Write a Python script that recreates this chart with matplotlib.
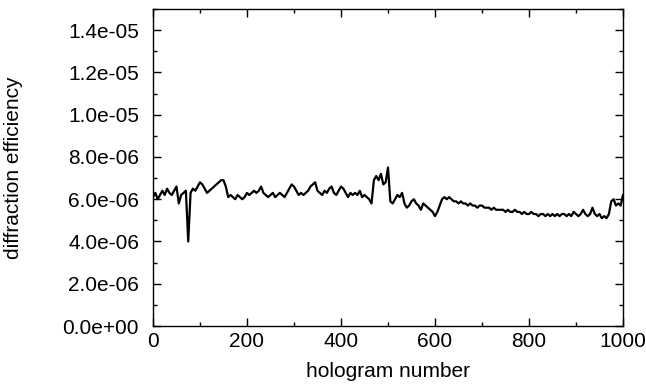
#!/usr/bin/env python3
"""Diffraction efficiency versus hologram number."""

import matplotlib

matplotlib.use("Agg")
import matplotlib.pyplot as plt
import numpy as np
from matplotlib.ticker import FormatStrFormatter, MultipleLocator

# hologram numbers, one reading every 5 holograms
HOLOGRAM = np.arange(0, 1001, 5)

# diffraction efficiency, in units of 1e-6
EFFICIENCY_E6 = [
    6.1, 6.3, 6.0, 6.2, 6.4, 6.2, 6.5, 6.3, 6.2, 6.4,
    6.6, 5.8, 6.2, 6.3, 6.4, 4.0, 6.3, 6.5, 6.4, 6.6,
    6.8, 6.7, 6.5, 6.3, 6.4, 6.5, 6.6, 6.7, 6.8, 6.9,
    6.9, 6.6, 6.1, 6.2, 6.1, 6.0, 6.2, 6.1, 6.0, 6.1,
    6.3, 6.2, 6.3, 6.4, 6.3, 6.4, 6.6, 6.3, 6.2, 6.1,
    6.2, 6.3, 6.1, 6.2, 6.3, 6.2, 6.1, 6.3, 6.5, 6.7,
    6.6, 6.4, 6.2, 6.3, 6.2, 6.3, 6.4, 6.6, 6.7, 6.8,
    6.4, 6.3, 6.2, 6.4, 6.3, 6.5, 6.6, 6.3, 6.2, 6.4,
    6.6, 6.5, 6.3, 6.1, 6.3, 6.2, 6.3, 6.2, 6.4, 6.1,
    6.2, 6.1, 6.0, 5.8, 6.9, 7.1, 6.9, 7.2, 6.7, 6.8,
    7.5, 5.9, 5.8, 6.0, 6.2, 6.1, 6.3, 5.8, 5.6, 5.7,
    5.9, 6.0, 5.8, 5.7, 5.5, 5.8, 5.7, 5.6, 5.5, 5.4,
    5.2, 5.4, 5.7, 6.0, 6.1, 6.0, 6.1, 6.0, 5.9, 5.9,
    5.8, 5.9, 5.8, 5.8, 5.7, 5.8, 5.7, 5.7, 5.6, 5.7,
    5.7, 5.6, 5.6, 5.6, 5.5, 5.6, 5.5, 5.5, 5.5, 5.5,
    5.4, 5.5, 5.4, 5.4, 5.5, 5.4, 5.4, 5.3, 5.4, 5.3,
    5.3, 5.4, 5.3, 5.3, 5.2, 5.3, 5.3, 5.2, 5.3, 5.2,
    5.3, 5.2, 5.3, 5.2, 5.3, 5.3, 5.2, 5.3, 5.2, 5.4,
    5.3, 5.2, 5.3, 5.5, 5.3, 5.2, 5.3, 5.6, 5.3, 5.2,
    5.3, 5.1, 5.2, 5.1, 5.3, 5.9, 6.0, 5.7, 5.8, 5.7,
    6.2,
]

X_LABEL = "hologram number"
Y_LABEL = "diffraction efficiency"

plt.rcParams["font.family"] = ["Liberation Sans", "DejaVu Sans"]
plt.rcParams["font.size"] = 15

fig = plt.figure(figsize=(6.46, 3.84), dpi=100)
ax = fig.add_axes([0.2368, 0.151, 0.7276, 0.8255])

ax.plot(HOLOGRAM, np.array(EFFICIENCY_E6) * 1e-6, color="black", linewidth=1.6)

ax.set_xlim(0, 1000)
ax.set_ylim(0, 1.5e-5)
ax.xaxis.set_major_locator(MultipleLocator(200))
ax.xaxis.set_minor_locator(MultipleLocator(100))
ax.yaxis.set_major_locator(MultipleLocator(2e-6))
ax.yaxis.set_minor_locator(MultipleLocator(1e-6))
ax.yaxis.set_major_formatter(FormatStrFormatter("%.1e"))
ax.yaxis.get_offset_text().set_visible(False)

ax.tick_params(which="both", direction="in", top=True, right=True, width=1.0)
ax.tick_params(which="major", length=6)
ax.tick_params(which="minor", length=3)
ax.tick_params(axis="y", which="major", pad=10)
ax.tick_params(axis="x", which="major", pad=4)
for spine in ax.spines.values():
    spine.set_linewidth(1.0)

ax.set_xlabel(X_LABEL)
ax.set_ylabel(Y_LABEL)
ax.yaxis.set_label_coords(-0.277, 0.5)
ax.xaxis.set_label_coords(0.5, -0.112)

fig.savefig("out.png", dpi=100)
